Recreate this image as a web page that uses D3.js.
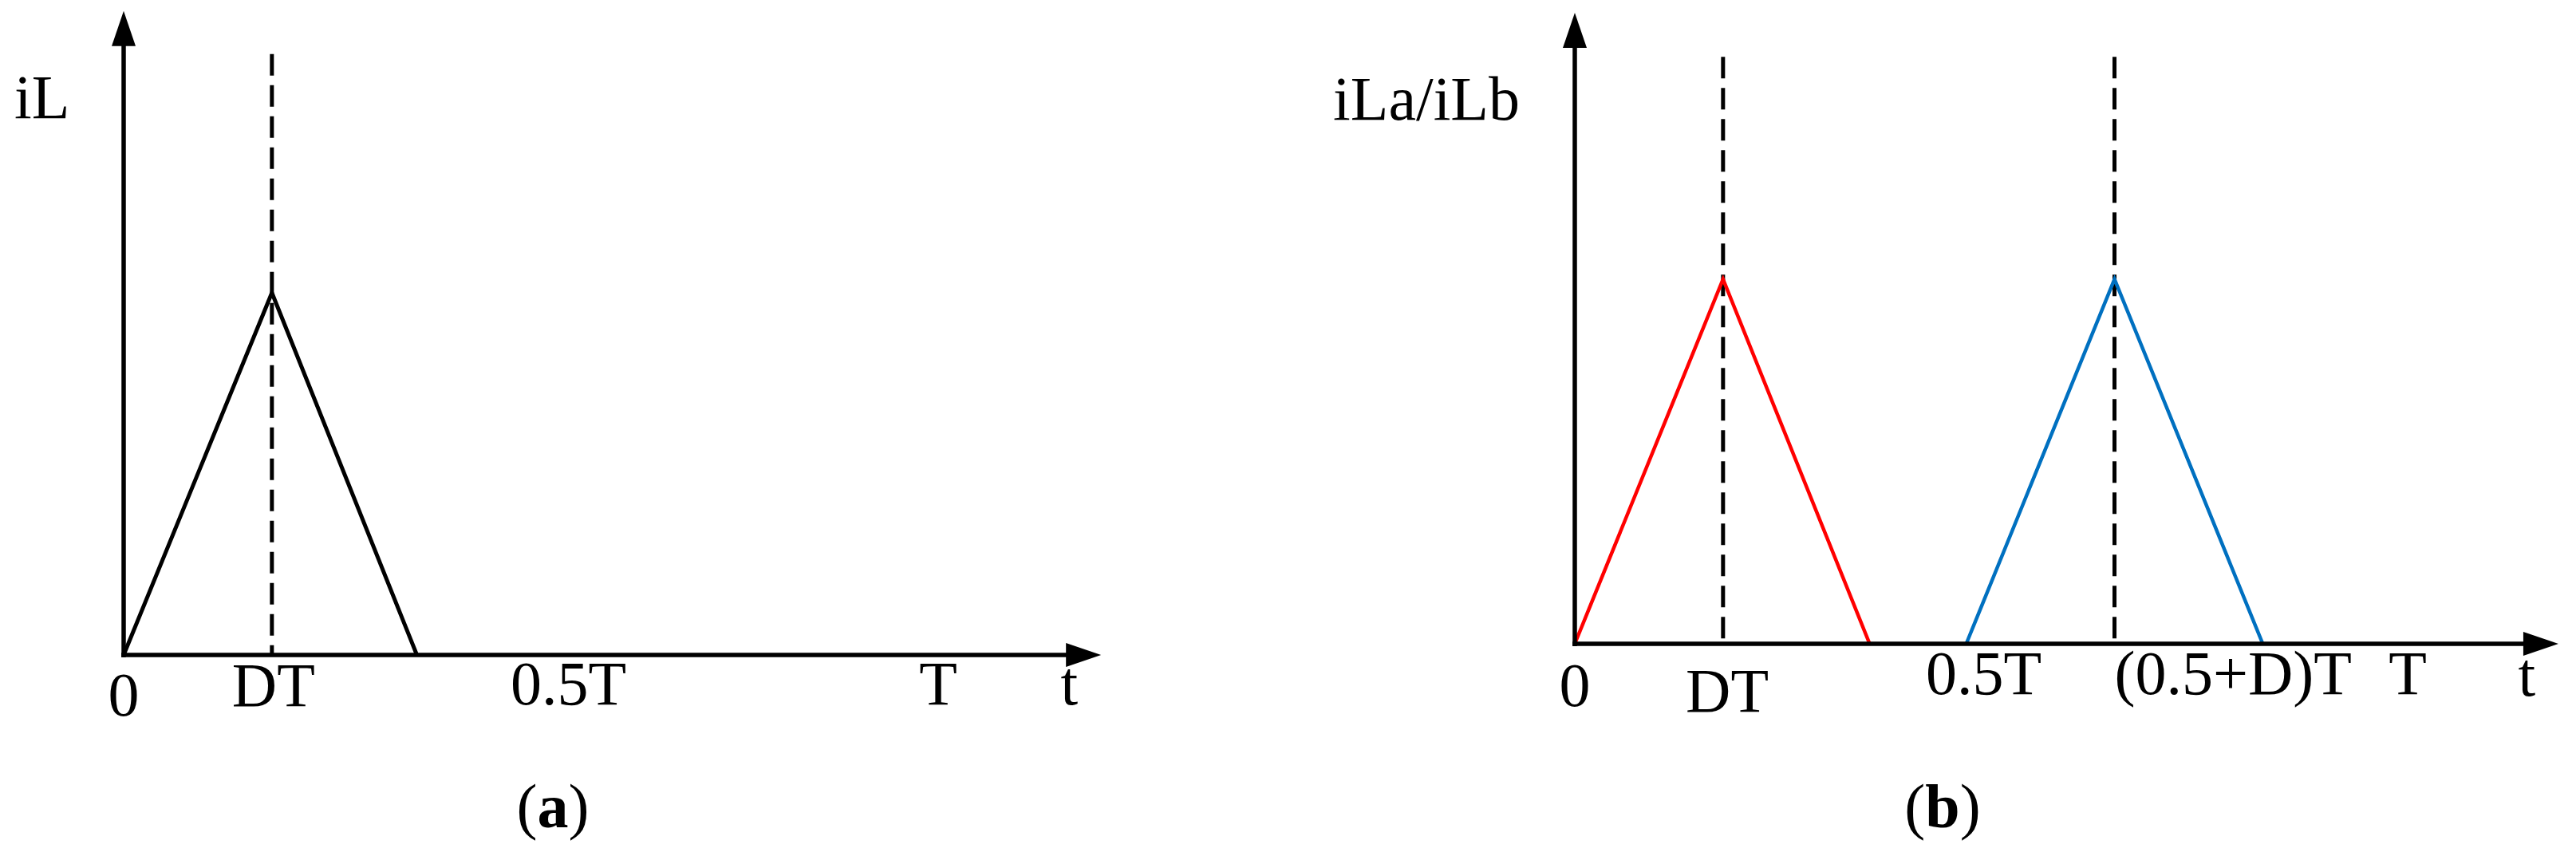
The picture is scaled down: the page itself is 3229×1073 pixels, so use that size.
<!DOCTYPE html>
<html>
<head>
<meta charset="utf-8">
<script src="https://cdn.jsdelivr.net/npm/d3@7/dist/d3.min.js"></script>
<style>
  html, body { margin: 0; padding: 0; background: #fff; }
  svg { display: block; }
  text { font-family: "Liberation Serif", "Times New Roman", serif; fill: #000; }
</style>
</head>
<body>
<svg id="chart" width="3229" height="1073"></svg>
<script>
// ---------- DATA (time in units of T, current normalised to peak = 1) ----------
// Panel (a): single inductor current iL
const iLTimesA  = [0, 0.182, 0.360];
const iLValuesA = [0, 1, 0];
const dashTimesA = [0.182];                       // DT marker
const tickLabelsA = ["0", "DT", "0.5T", "T", "t"];
const tickPosA    = [0, 0.184, 0.546, 1.0, 1.161];
const yLabelA = "iL";
const captionA = "a";

// Panel (b): interleaved currents iLa (red) and iLb (blue)
const iLaTimes  = [0, 0.178, 0.354];
const iLaValues = [0, 1, 0];
const iLbTimes  = [0.470, 0.648, 0.826];
const iLbValues = [0, 1, 0];
const dashTimesB = [0.178, 0.648];                // DT and (0.5+D)T markers
const tickLabelsB = ["0", "DT", "0.5T", "(0.5+D)T", "T", "t"];
const tickPosB    = [0, 0.183, 0.491, 0.648, 1.0, 1.143];
const yLabelB = "iLa/iLb";
const captionB = "b";

// ---------- LAYOUT ----------
const FONT = 78;
const svg = d3.select("#chart");

function zip(ts, vs) { return ts.map((t, i) => ({ t: t, v: vs[i] })); }

function arrowUp(g, x, yTip) {
  g.append("path")
    .attr("d", `M${x},${yTip} L${x - 15},${yTip + 44} L${x + 15},${yTip + 44} Z`)
    .attr("fill", "#000");
}
function arrowRight(g, xTip, y) {
  g.append("path")
    .attr("d", `M${xTip},${y} L${xTip - 44},${y - 15} L${xTip - 44},${y + 15} Z`)
    .attr("fill", "#000");
}

function panel(cfg) {
  const x = d3.scaleLinear().domain([0, 1]).range(cfg.xRange);
  const y = d3.scaleLinear().domain([0, 1]).range(cfg.yRange);
  const g = svg.append("g");
  const x0 = x(0), y0 = y(0);
  const xEnd = x(cfg.xMax), yTop = y(cfg.yMax);

  // dashed guide lines
  g.selectAll("line.dash").data(cfg.dashTimes).enter().append("line")
    .attr("class", "dash")
    .attr("x1", d => x(d)).attr("x2", d => x(d))
    .attr("y1", y(cfg.dashTop)).attr("y2", y0)
    .attr("stroke", "#000").attr("stroke-width", 5)
    .attr("stroke-dasharray", "27,12");

  // waveforms
  const line = d3.line().x(d => x(d.t)).y(d => y(d.v));
  cfg.series.forEach(s => {
    g.append("path").datum(zip(s.t, s.v))
      .attr("d", line)
      .attr("fill", "none")
      .attr("stroke", s.color)
      .attr("stroke-width", s.width)
      .attr("stroke-linejoin", "miter");
  });

  // axes
  g.append("line").attr("x1", x0).attr("x2", x0)
    .attr("y1", y0 + 3).attr("y2", yTop + 30)
    .attr("stroke", "#000").attr("stroke-width", 5.5);
  arrowUp(g, x0, yTop);
  g.append("line").attr("x1", x0 - 3).attr("x2", xEnd - 30)
    .attr("y1", y0).attr("y2", y0)
    .attr("stroke", "#000").attr("stroke-width", 5.5);
  arrowRight(g, xEnd, y0);

  // tick labels
  g.selectAll("text.tick").data(cfg.tickLabels).enter().append("text")
    .attr("class", "tick")
    .attr("x", (d, i) => x(cfg.tickPos[i]))
    .attr("y", (d, i) => y0 + cfg.tickDy[i])
    .attr("text-anchor", (d, i) => cfg.tickAnchor[i])
    .attr("font-size", FONT)
    .text(d => d);

  // y label
  g.append("text")
    .attr("x", cfg.yLabelX).attr("y", cfg.yLabelY)
    .attr("text-anchor", cfg.yLabelAnchor)
    .attr("font-size", FONT)
    .text(cfg.yLabel);

  // caption
  const cap = g.append("text")
    .attr("x", cfg.capX).attr("y", 1037)
    .attr("text-anchor", "middle")
    .attr("font-size", FONT);
  cap.append("tspan").text("(");
  cap.append("tspan").attr("font-weight", "bold").text(cfg.caption);
  cap.append("tspan").text(")");
}

panel({
  xRange: [155, 1176], yRange: [821, 367],
  xMax: 1.2, yMax: 1.778, dashTop: 1.659,
  dashTimes: dashTimesA,
  series: [{ t: iLTimesA, v: iLValuesA, color: "#000", width: 5 }],
  tickLabels: tickLabelsA, tickPos: tickPosA,
  tickDy: [76, 64, 62, 62, 62],
  tickAnchor: ["middle", "middle", "middle", "middle", "middle"],
  yLabel: yLabelA, yLabelX: 18, yLabelY: 148, yLabelAnchor: "start",
  caption: captionA, capX: 693
});

panel({
  xRange: [1974, 3018], yRange: [807, 350],
  xMax: 1.181, yMax: 1.731, dashTop: 1.61,
  dashTimes: dashTimesB,
  series: [
    { t: iLaTimes, v: iLaValues, color: "#FF0000", width: 4.5 },
    { t: iLbTimes, v: iLbValues, color: "#0070C0", width: 4.5 }
  ],
  tickLabels: tickLabelsB, tickPos: tickPosB,
  tickDy: [78, 85, 63, 63, 63, 65],
  tickAnchor: ["middle", "middle", "middle", "start", "middle", "middle"],
  yLabel: yLabelB, yLabelX: 1905, yLabelY: 150, yLabelAnchor: "end",
  caption: captionB, capX: 2435
});
</script>
</body>
</html>
